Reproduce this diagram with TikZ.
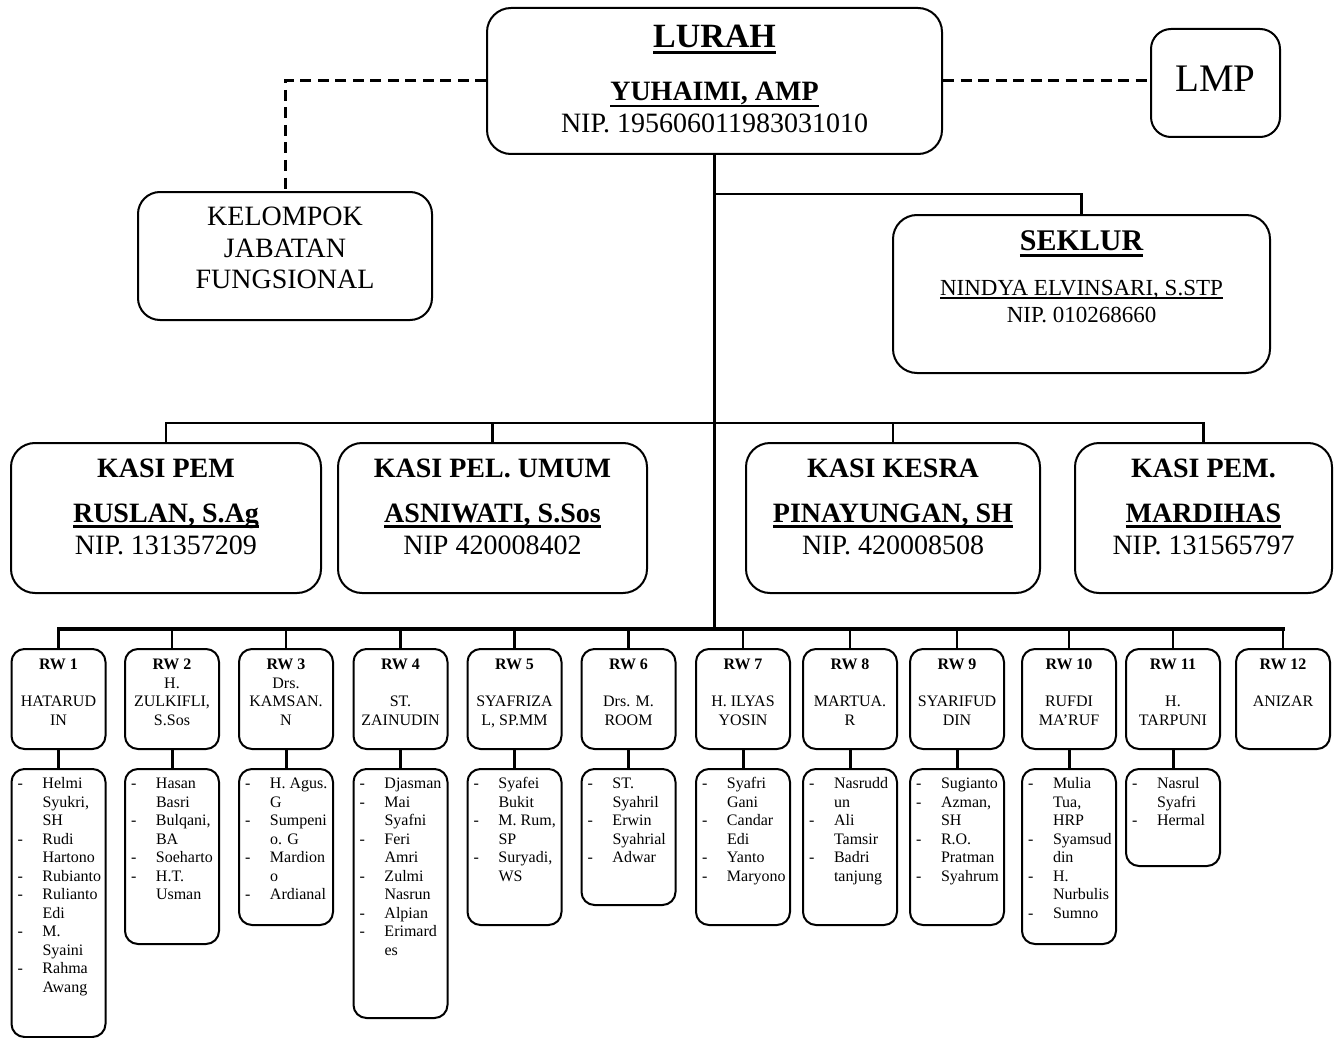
\documentclass[tikz,border=0pt]{standalone}
\usepackage{fontspec}
\setmainfont{Liberation Serif}
\usetikzlibrary{calc}
\tikzstyle{kotak} = [rectangle, draw=black, line width=2pt, rounded corners=24pt, inner sep=0pt]
\tikzstyle{kotakrw} = [rectangle, draw=black, line width=2pt, rounded corners=13pt, anchor=north, inner xsep=1pt, inner ysep=8pt, font=\fontsize{16}{18.5}\selectfont]
\tikzstyle{kotakang} = [kotakrw, inner xsep=6pt, inner ysep=7pt]
\tikzstyle{teks} = [anchor=base, inner sep=0pt]
\tikzstyle{judul} = [teks, font=\fontsize{28}{32}\selectfont\bfseries]
\tikzstyle{isi} = [teks, font=\fontsize{28}{32}\selectfont]
\tikzstyle{putus} = [line width=3pt, dash pattern=on 11pt off 6.5pt]
\tikzstyle{batang} = [line width=3.5pt, line cap=rect]
\tikzstyle{cabang} = [line width=2.5pt, line cap=rect]
\newcommand{\garis}[3]{\sbox0{#3}\rlap{\rule[-#1]{\wd0}{#2}}\usebox0}

\begin{document}
\begin{tikzpicture}[x=1pt, y=-1pt]
\useasboundingbox (0,0) rectangle (1339,1038);

% lurah, lmp, kelompok jabatan fungsional
\node [kotak, minimum width=455pt, minimum height=146pt] (lurah) at (714.5,81) {};
\node [teks, font=\fontsize{34}{40}\selectfont\bfseries] (lurah1) at (714.5,48) {\garis{6pt}{3pt}{LURAH}};
\node [judul] (lurah2) at (714.5,101) {\garis{6.5pt}{2.5pt}{YUHAIMI, AMP}};
\node [isi] (lurah3) at (714.5,133) {NIP. 195606011983031010};

\node [kotak, rounded corners=20pt, minimum width=129pt, minimum height=108pt] (lmp) at (1215.5,83) {};
\node [teks, font=\fontsize{39}{44}\selectfont] (lmp1) at (1215.5,92) {LMP};

\node [kotak, rounded corners=22pt, minimum width=294pt, minimum height=128pt] (kjf) at (285,256) {};
\node [isi] (kjf1) at (285,225) {KELOMPOK};
\node [isi] (kjf2) at (285,257) {JABATAN};
\node [isi] (kjf3) at (285,288) {FUNGSIONAL};

% sekretaris lurah
\node [kotak, minimum width=377pt, minimum height=158pt] (seklur) at (1081.5,294) {};
\node [teks, font=\fontsize{30}{34}\selectfont\bfseries] (seklur1) at (1081.5,250) {\garis{6.5pt}{2.5pt}{SEKLUR}};
\node [teks, font=\fontsize{23}{27}\selectfont] (seklur2) at (1081.5,295) {\garis{3.5pt}{1.5pt}{NINDYA ELVINSARI, S.STP}};
\node [teks, font=\fontsize{23}{27}\selectfont] (seklur3) at (1081.5,322) {NIP. 010268660};

% kepala seksi
\node [kotak, minimum width=310pt, minimum height=150pt] (kasipem) at (166,518) {};
\node [judul] (kasipem1) at (166,477) {KASI PEM};
\node [judul] (kasipem2) at (166,522) {\garis{5.5pt}{2.5pt}{RUSLAN, S.Ag}};
\node [isi] (kasipem3) at (166,554) {NIP. 131357209};

\node [kotak, minimum width=309pt, minimum height=150pt] (kasipel) at (492.5,518) {};
\node [judul] (kasipel1) at (492.5,477) {KASI PEL. UMUM};
\node [judul] (kasipel2) at (492.5,522) {\garis{5.5pt}{2.5pt}{ASNIWATI, S.Sos}};
\node [isi] (kasipel3) at (492.5,554) {NIP 420008402};

\node [kotak, minimum width=294pt, minimum height=150pt] (kesra) at (893,518) {};
\node [judul] (kesra1) at (893,477) {KASI KESRA};
\node [judul] (kesra2) at (893,522) {\garis{5.5pt}{2.5pt}{PINAYUNGAN, SH}};
\node [isi] (kesra3) at (893,554) {NIP. 420008508};

\node [kotak, minimum width=257pt, minimum height=150pt] (kasipemb) at (1203.5,518) {};
\node [judul] (kasipemb1) at (1203.5,477) {KASI PEM.};
\node [judul] (kasipemb2) at (1203.5,522) {\garis{5.5pt}{2.5pt}{MARDIHAS}};
\node [isi] (kasipemb3) at (1203.5,554) {NIP. 131565797};

% ketua rw
\node [kotakrw] (rw1) at (58.5,648) {\parbox[t][84pt][t]{92pt}{\centering\strut\textbf{RW 1}\\ \mbox{}\\ HATARUD\\ IN}};
\node [kotakrw] (rw2) at (172,648) {\parbox[t][84pt][t]{92pt}{\centering\strut\textbf{RW 2}\\ H.\\ ZULKIFLI,\\ S.Sos}};
\node [kotakrw] (rw3) at (286,648) {\parbox[t][84pt][t]{92pt}{\centering\strut\textbf{RW 3}\\ Drs.\\ KAMSAN.\\ N}};
\node [kotakrw] (rw4) at (400.5,648) {\parbox[t][84pt][t]{92pt}{\centering\strut\textbf{RW 4}\\ \mbox{}\\ ST.\\ ZAINUDIN}};
\node [kotakrw] (rw5) at (514.5,648) {\parbox[t][84pt][t]{92pt}{\centering\strut\textbf{RW 5}\\ \mbox{}\\ SYAFRIZA\\ L, SP.MM}};
\node [kotakrw] (rw6) at (628.5,648) {\parbox[t][84pt][t]{92pt}{\centering\strut\textbf{RW 6}\\ \mbox{}\\ Drs. M.\\ ROOM}};
\node [kotakrw] (rw7) at (743,648) {\parbox[t][84pt][t]{92pt}{\centering\strut\textbf{RW 7}\\ \mbox{}\\ H. ILYAS\\ YOSIN}};
\node [kotakrw] (rw8) at (850,648) {\parbox[t][84pt][t]{92pt}{\centering\strut\textbf{RW 8}\\ \mbox{}\\ MARTUA.\\ R}};
\node [kotakrw] (rw9) at (957,648) {\parbox[t][84pt][t]{92pt}{\centering\strut\textbf{RW 9}\\ \mbox{}\\ SYARIFUD\\ DIN}};
\node [kotakrw] (rw10) at (1069,648) {\parbox[t][84pt][t]{92pt}{\centering\strut\textbf{RW 10}\\ \mbox{}\\ RUFDI\\ MA’RUF}};
\node [kotakrw] (rw11) at (1173,648) {\parbox[t][84pt][t]{92pt}{\centering\strut\textbf{RW 11}\\ \mbox{}\\ H.\\ TARPUNI}};
\node [kotakrw] (rw12) at (1283,648) {\parbox[t][84pt][t]{92pt}{\centering\strut\textbf{RW 12}\\ \mbox{}\\ ANIZAR}};

% anggota
\node [kotakang] (ang1) at (58.5,768) {\parbox[t][254pt][t]{82pt}{\begin{tabular}[t]{@{}p{25pt}@{}l@{}}
    -&Helmi\\ &Syukri,\\ &SH\\ -&Rudi\\ &Hartono\\ -&Rubianto\\ -&Rulianto\\ &Edi\\ -&M.\\ &Syaini\\ -&Rahma\\ &Awang
\end{tabular}}};
\node [kotakang] (ang2) at (172,768) {\parbox[t][161pt][t]{82pt}{\begin{tabular}[t]{@{}p{25pt}@{}l@{}}
    -&Hasan\\ &Basri\\ -&Bulqani,\\ &BA\\ -&Soeharto\\ -&H.T.\\ &Usman
\end{tabular}}};
\node [kotakang] (ang3) at (286,768) {\parbox[t][142pt][t]{82pt}{\begin{tabular}[t]{@{}p{25pt}@{}l@{}}
    -&H. Agus.\\ &G\\ -&Sumpeni\\ &o. G\\ -&Mardion\\ &o\\ -&Ardianal
\end{tabular}}};
\node [kotakang] (ang4) at (400.5,768) {\parbox[t][235pt][t]{82pt}{\begin{tabular}[t]{@{}p{25pt}@{}l@{}}
    -&Djasman\\ -&Mai\\ &Syafni\\ -&Feri\\ &Amri\\ -&Zulmi\\ &Nasrun\\ -&Alpian\\ -&Erimard\\ &es
\end{tabular}}};
\node [kotakang] (ang5) at (514.5,768) {\parbox[t][142pt][t]{82pt}{\begin{tabular}[t]{@{}p{25pt}@{}l@{}}
    -&Syafei\\ &Bukit\\ -&M. Rum,\\ &SP\\ -&Suryadi,\\ &WS
\end{tabular}}};
\node [kotakang] (ang6) at (628.5,768) {\parbox[t][122pt][t]{82pt}{\begin{tabular}[t]{@{}p{25pt}@{}l@{}}
    -&ST.\\ &Syahril\\ -&Erwin\\ &Syahrial\\ -&Adwar
\end{tabular}}};
\node [kotakang] (ang7) at (743,768) {\parbox[t][142pt][t]{82pt}{\begin{tabular}[t]{@{}p{25pt}@{}l@{}}
    -&Syafri\\ &Gani\\ -&Candar\\ &Edi\\ -&Yanto\\ -&Maryono
\end{tabular}}};
\node [kotakang] (ang8) at (850,768) {\parbox[t][142pt][t]{82pt}{\begin{tabular}[t]{@{}p{25pt}@{}l@{}}
    -&Nasrudd\\ &un\\ -&Ali\\ &Tamsir\\ -&Badri\\ &tanjung
\end{tabular}}};
\node [kotakang] (ang9) at (957,768) {\parbox[t][142pt][t]{82pt}{\begin{tabular}[t]{@{}p{25pt}@{}l@{}}
    -&Sugianto\\ -&Azman,\\ &SH\\ -&R.O.\\ &Pratman\\ -&Syahrum
\end{tabular}}};
\node [kotakang] (ang10) at (1069,768) {\parbox[t][161pt][t]{82pt}{\begin{tabular}[t]{@{}p{25pt}@{}l@{}}
    -&Mulia\\ &Tua,\\ &HRP\\ -&Syamsud\\ &din\\ -&H.\\ &Nurbulis\\ -&Sumno
\end{tabular}}};
\node [kotakang] (ang11) at (1173,768) {\parbox[t][83pt][t]{82pt}{\begin{tabular}[t]{@{}p{25pt}@{}l@{}}
    -&Nasrul\\ &Syafri\\ -&Hermal
\end{tabular}}};

% garis
\coordinate (cabsek) at (714.5,194);
\coordinate (busk) at (714.5,423);
\coordinate (busrw) at (714.5,629);
\draw[putus] (lurah.west) -| (kjf.north);
\draw[putus] (lurah.east) -- (lurah.east -| lmp.west);
\draw[batang] (lurah.south) -- (busrw);
\draw[cabang] (cabsek) -| (seklur.north);
\draw[cabang] (kasipem.north |- busk) -- (kasipemb.north |- busk);
\draw[cabang] (kasipem.north) -- (kasipem.north |- busk) (kasipel.north) -- (kasipel.north |- busk)
    (kesra.north) -- (kesra.north |- busk) (kasipemb.north) -- (kasipemb.north |- busk);
\draw[batang] (rw1.north |- busrw) -- (rw12.north |- busrw);
\draw[cabang] (rw1.north) -- (rw1.north |- busrw) (rw2.north) -- (rw2.north |- busrw)
    (rw3.north) -- (rw3.north |- busrw) (rw4.north) -- (rw4.north |- busrw)
    (rw5.north) -- (rw5.north |- busrw) (rw6.north) -- (rw6.north |- busrw)
    (rw7.north) -- (rw7.north |- busrw) (rw8.north) -- (rw8.north |- busrw)
    (rw9.north) -- (rw9.north |- busrw) (rw10.north) -- (rw10.north |- busrw)
    (rw11.north) -- (rw11.north |- busrw) (rw12.north) -- (rw12.north |- busrw);
\draw[cabang, line width=3pt] (rw1.south) -- (ang1.north) (rw2.south) -- (ang2.north)
    (rw3.south) -- (ang3.north) (rw4.south) -- (ang4.north) (rw5.south) -- (ang5.north)
    (rw6.south) -- (ang6.north) (rw7.south) -- (ang7.north) (rw8.south) -- (ang8.north)
    (rw9.south) -- (ang9.north) (rw10.south) -- (ang10.north) (rw11.south) -- (ang11.north);
\end{tikzpicture}
\end{document}
